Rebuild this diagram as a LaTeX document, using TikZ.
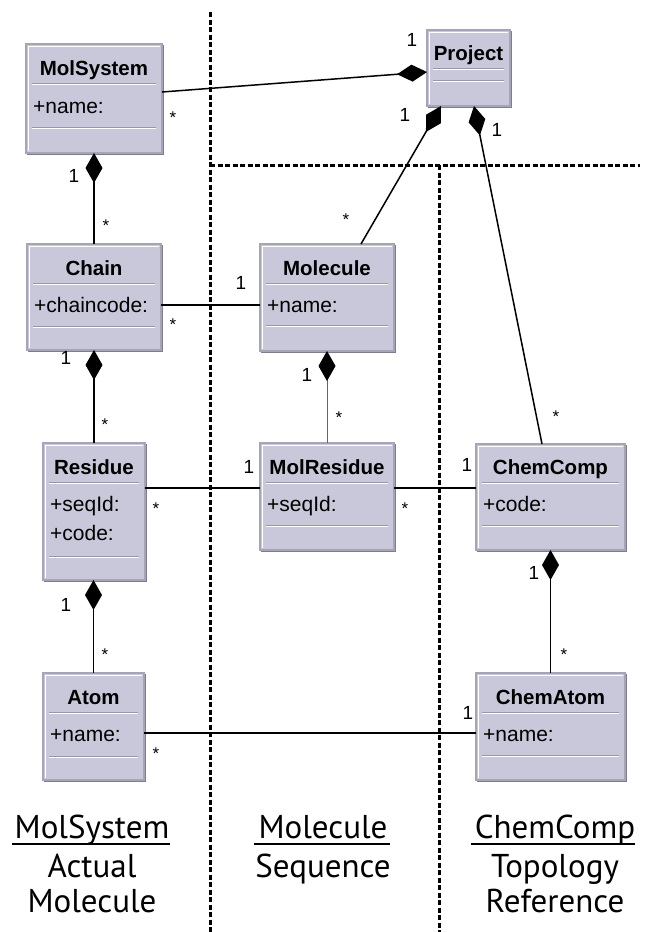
\documentclass[tikz,border=0pt]{standalone}
\usepackage{fontspec}
\setmainfont{Liberation Sans}
\newfontfamily\labfont{PT Sans}
\usetikzlibrary{arrows.meta,calc}
\definecolor{boxfill}{RGB}{200,200,218}
\definecolor{boxedge}{RGB}{165,165,182}
\definecolor{boxshade}{RGB}{125,125,140}
\definecolor{sepline}{RGB}{150,150,168}
\tikzset{
  classrect/.style={draw=boxedge, fill=boxfill, line width=1.4pt, inner sep=0pt, outer sep=0pt},
  titletext/.style={font=\bfseries\fontsize{20.5}{24}\selectfont, inner sep=0pt, anchor=base},
  attrtext/.style={font=\fontsize{21}{24}\selectfont, inner sep=0pt, anchor=base west},
  multtext/.style={font=\fontsize{19}{22}\selectfont, inner sep=0pt},
  startext/.style={font=\fontsize{17}{20}\selectfont, inner sep=0pt, anchor=north},
  comp/.style={line width=1.5pt, -{Diamond[length=30pt,width=17pt]}},
  compthin/.style={line width=1pt, draw=black!60, -{Diamond[length=30pt,width=17pt,color=black]}},
  assoc/.style={line width=1.5pt},
  divider/.style={line width=3pt, dash pattern=on 5pt off 2.5pt},
  bottomlab/.style={font=\labfont\fontsize{33}{36}\selectfont, inner sep=0pt, anchor=base},
}
% name, left, top, right, bottom, sep1, sep2, title
\newcommand\classbox[8]{%
  \node[classrect, minimum width={(#4-#2)*1pt}, minimum height={(#5-#3)*1pt}] (#1) at ({(#2+#4)/2},{(#3+#5)/2}) {};
  \draw[white, line width=1pt] ($(#1.south west)+(2,-2)$) -- ($(#1.north west)+(2,2)$) -- ($(#1.north east)+(-2,2)$);
  \draw[boxshade, line width=1pt] ($(#1.north east)+(1,1)$) -- ($(#1.south east)+(1,1)$) -- ($(#1.south west)+(1,1)$);
  \draw[sepline, line width=1pt] ($(#1.north west)+(6,{#6-#3})$) -- ($(#1.north east)+(-6,{#6-#3})$);
  \draw[white, line width=1pt] ($(#1.north west)+(6,{#6-#3+1.5})$) -- ($(#1.north east)+(-6,{#6-#3+1.5})$);
  \draw[sepline, line width=1pt] ($(#1.north west)+(6,{#7-#3})$) -- ($(#1.north east)+(-6,{#7-#3})$);
  \draw[white, line width=1pt] ($(#1.north west)+(6,{#7-#3+1.5})$) -- ($(#1.north east)+(-6,{#7-#3+1.5})$);
  \node[titletext] (#1-title) at ($(#1.north)+(0,{#6-#3-8})$) {#8};
}
\begin{document}
\begin{tikzpicture}[x=1pt,y=-1pt]
\useasboundingbox[fill=white] (0,0) rectangle (645,932);

% dividers
\draw[divider] (210,12) -- (210,932);
\draw[divider] (210,165) -- (640,165);
\draw[divider] (439,165) -- (439,932);

% classes
\classbox{molsystem}{26}{44}{162}{153}{83}{127}{MolSystem}
\node[attrtext] (molsystem-a1) at ($(molsystem.north west)+(7,69)$) {+name:};
\classbox{project}{427}{30}{510}{106}{68}{80}{Project}
\classbox{chain}{27}{244}{161}{350}{283}{326}{Chain}
\node[attrtext] (chain-a1) at ($(chain.north west)+(7,68)$) {+chaincode:};
\classbox{molecule}{260}{244}{394}{351}{283}{325}{Molecule}
\node[attrtext] (molecule-a1) at ($(molecule.north west)+(7,68)$) {+name:};
\classbox{residue}{43}{443}{145}{580}{482}{556}{Residue}
\node[attrtext] (residue-a1) at ($(residue.north west)+(7,68)$) {+seqId:};
\node[attrtext] (residue-a2) at ($(residue.north west)+(7,97)$) {+code:};
\classbox{molresidue}{260}{443}{394}{550}{482}{525}{MolResidue}
\node[attrtext] (molresidue-a1) at ($(molresidue.north west)+(7,68)$) {+seqId:};
\classbox{chemcomp}{476}{444}{625}{550}{482}{525}{ChemComp}
\node[attrtext] (chemcomp-a1) at ($(chemcomp.north west)+(7,67)$) {+code:};
\classbox{atom}{43}{673}{144}{780}{712}{756}{Atom}
\node[attrtext] (atom-a1) at ($(atom.north west)+(7,68)$) {+name:};
\classbox{chematom}{476}{673}{625}{780}{712}{755}{ChemAtom}
\node[attrtext] (chematom-a1) at ($(chematom.north west)+(7,68)$) {+name:};

% compositions
\draw[comp] ($(molsystem.east)+(0,-6.5)$) -- ($(project.west)+(0,4)$);
\draw[comp] ($(molecule.north)+(34,0)$) -- ($(project.south)+(-27.5,0)$);
\draw[comp] ($(chemcomp.north)+(-8.5,0)$) -- ($(project.south)+(5.5,0)$);
\draw[comp] (chain.north) -- (molsystem.south);
\draw[comp] (residue.north) -- (residue.north |- chain.south);
\draw[compthin] (molresidue.north) -- (molecule.south);
\draw[comp] (atom.north) -- (atom.north |- residue.south);
\draw[comp] (chematom.north) -- (chematom.north |- chemcomp.south);

% associations
\coordinate (cm) at ($(chain.east)+(0,8)$);
\draw[assoc] (cm) -- (cm -| molecule.west);
\coordinate (rm) at ($(residue.east)+(0,-23.5)$);
\draw[assoc] (rm) -- (rm -| molresidue.west);
\coordinate (mc) at ($(molresidue.east)+(0,-8.5)$);
\draw[assoc] (mc) -- (mc -| chemcomp.west);
\coordinate (ac) at ($(atom.east)+(0,6.5)$);
\draw[assoc] (ac) -- (ac -| chematom.west);

% multiplicities
\node[multtext] (m1) at (412,40) {1};
\node[startext] (s1) at (173,112) {*};
\node[multtext] (m2) at (405,115) {1};
\node[startext] (s2) at (346,214) {*};
\node[multtext] (m3) at (497,130) {1};
\node[startext] (s3) at (556,411) {*};
\node[multtext] (m4) at (74,176) {1};
\node[startext] (s4) at (106,220) {*};
\node[multtext] (m5) at (241,283) {1};
\node[startext] (s5) at (173,319) {*};
\node[multtext] (m6) at (66,358) {1};
\node[startext] (s6) at (105,419) {*};
\node[multtext] (m7) at (307,375) {1};
\node[startext] (s7) at (339,412) {*};
\node[multtext] (m8) at (249,467) {1};
\node[startext] (s8) at (156,503) {*};
\node[multtext] (m9) at (467,465) {1};
\node[startext] (s9) at (405,503) {*};
\node[multtext] (m10) at (534,573) {1};
\node[startext] (s10) at (564,649) {*};
\node[multtext] (m11) at (66,605) {1};
\node[startext] (s11) at (105,649) {*};
\node[multtext] (m12) at (468,713) {1};
\node[startext] (s12) at (156,748) {*};

% bottom labels
\node[bottomlab] (lab1) at (92,838) {MolSystem};
\draw[line width=1.2pt] ($(lab1.base west)+(-2,6)$) -- ($(lab1.base east)+(0,6)$);
\node[bottomlab] (lab2) at (92,877) {Actual};
\node[bottomlab] (lab3) at (92,912) {Molecule};
\node[bottomlab] (lab4) at (323,838) {Molecule};
\draw[line width=1.2pt] ($(lab4.base west)+(-4,6)$) -- ($(lab4.base east)+(2,6)$);
\node[bottomlab] (lab5) at (323,877) {Sequence};
\node[bottomlab] (lab6) at (555,838) {ChemComp};
\draw[line width=1.2pt] ($(lab6.base west)+(-4,6)$) -- ($(lab6.base east)+(0,6)$);
\node[bottomlab] (lab7) at (555,877) {Topology};
\node[bottomlab] (lab8) at (555,912) {Reference};
\end{tikzpicture}
\end{document}
